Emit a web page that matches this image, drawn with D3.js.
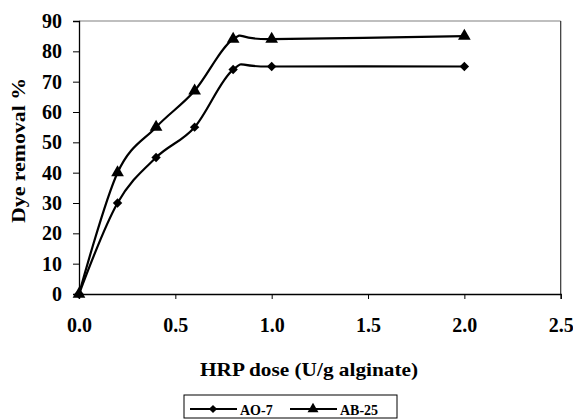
<!DOCTYPE html>
<html><head><meta charset="utf-8">
<script src="https://cdn.jsdelivr.net/npm/d3@7"></script>
<style>body{margin:0;background:#fff}svg{display:block}text{font-family:"Liberation Serif","Times New Roman",serif;font-weight:bold}</style>
</head><body>
<script>
const doses = [0, 0.2, 0.4, 0.6, 0.8, 1.0, 2.0];
const ao7 = [0, 30, 45, 55, 74, 75, 75];
const ab25 = [0, 40, 55, 67, 84, 84, 85];
const xTicks = [0, 0.5, 1.0, 1.5, 2.0, 2.5];
const yTicks = [0, 10, 20, 30, 40, 50, 60, 70, 80, 90];
const seriesNames = ["AO-7", "AB-25"];

const W = 573, H = 419;
const svg = d3.select("body").append("svg").attr("width", W).attr("height", H);
const L = 79, R = 560.7, T = 21, B = 294;
const x = d3.scaleLinear().domain([0, 2.5]).range([L, R]);
const y = d3.scaleLinear().domain([0, 90]).range([B, T]);

// plot border top/right
svg.append("line").attr("x1", L).attr("x2", R).attr("y1", T).attr("y2", T).attr("stroke", "#808080").attr("stroke-width", 1.2);
svg.append("line").attr("x1", R).attr("x2", R).attr("y1", T).attr("y2", B).attr("stroke", "#333").attr("stroke-width", 1.2);

const xAxis = svg.append("g").attr("transform", `translate(0,${B})`)
  .call(d3.axisBottom(x).tickValues(xTicks).tickFormat(d3.format(".1f")).tickSize(5).tickPadding(19));
const yAxis = svg.append("g").attr("transform", `translate(${L},0)`)
  .call(d3.axisLeft(y).tickValues(yTicks).tickSize(6).tickPadding(11));
[xAxis, yAxis].forEach(g => {
  g.attr("font-family", null).attr("font-size", null);
  g.select(".domain").attr("stroke", "#000").attr("stroke-width", 1.3);
  g.selectAll(".tick line").attr("stroke", "#000").attr("stroke-width", 1);
  g.selectAll(".tick text")
    .style("font-family", "'Liberation Serif', serif").style("font-weight", "bold")
    .style("font-size", "20px").attr("fill", "#000");
});

svg.append("text").attr("x", 309).attr("y", 376).attr("text-anchor", "middle").attr("font-size", 19.5)
  .attr("textLength", 218).attr("lengthAdjust", "spacingAndGlyphs").text("HRP dose (U/g alginate)");
svg.append("text").attr("transform", "translate(25,150.5) rotate(-90)").attr("text-anchor", "middle").attr("font-size", 19.5)
  .attr("textLength", 145).attr("lengthAdjust", "spacingAndGlyphs").text("Dye removal %");

const line = d3.line().x(d => x(d[0])).y(d => y(d[1])).curve(d3.curveCardinal.tension(0));

function drawSeries(vals, sym, rot) {
  const pts = doses.map((d, i) => [d, vals[i]]);
  svg.append("path").attr("d", line(pts)).attr("fill", "none").attr("stroke", "#000").attr("stroke-width", 2.2);
  svg.append("g").selectAll("path").data(pts).join("path")
    .attr("d", sym).attr("fill", "#000")
    .attr("transform", d => `translate(${x(d[0])},${y(d[1])})${rot}`);
}
drawSeries(ao7, d3.symbol().type(d3.symbolSquare).size(44), " rotate(45)");
drawSeries(ab25, d3.symbol().type(d3.symbolTriangle).size(70), "");

// legend
const lg = svg.append("g");
lg.append("rect").attr("x", 184).attr("y", 395).attr("width", 213).attr("height", 23).attr("fill", "#fff").attr("stroke", "#000").attr("stroke-width", 1);
const items = [
  {name: seriesNames[0], x0: 190, sym: d3.symbol().type(d3.symbolSquare).size(34), rot: " rotate(45)"},
  {name: seriesNames[1], x0: 290, sym: d3.symbol().type(d3.symbolTriangle).size(52), rot: ""}
];
items.forEach(it => {
  lg.append("line").attr("x1", it.x0).attr("x2", it.x0 + 47).attr("y1", 409).attr("y2", 409).attr("stroke", "#000").attr("stroke-width", 2);
  lg.append("path").attr("d", it.sym).attr("transform", `translate(${it.x0 + 23},409)${it.rot}`).attr("fill", "#000");
  lg.append("text").attr("x", it.x0 + 50).attr("y", 415).attr("font-size", 14).text(it.name);
});
</script>
</body></html>
